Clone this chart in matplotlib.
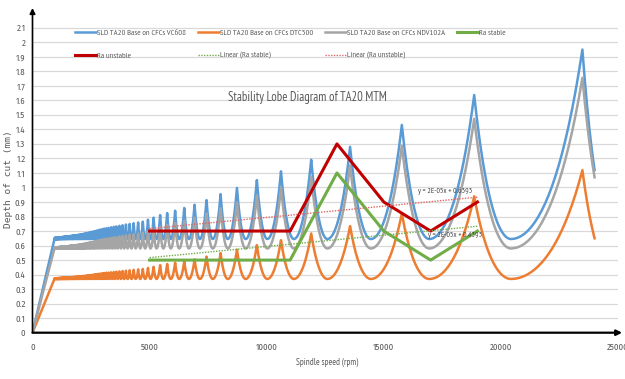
import numpy as np
import matplotlib
matplotlib.use("Agg")
import matplotlib.pyplot as plt
from matplotlib import font_manager as fm

# ---------------- data ----------------
# spindle speeds (rpm) of the lobe cusps, shared by the three SLD curves
cusp_rpm = [950, 960, 970, 980, 990, 1000, 1010, 1020, 1030, 1040, 1050, 1060, 1070, 1080, 1090, 1100,
            1110, 1130, 1140, 1150, 1160, 1180, 1190, 1200, 1220, 1230, 1250, 1260, 1280, 1290, 1310, 1330,
            1340, 1360, 1380, 1400, 1410, 1430, 1450, 1470, 1500, 1520, 1540, 1560, 1590, 1610, 1630, 1660,
            1690, 1710, 1740, 1770, 1800, 1830, 1870, 1900, 1940, 1970, 2010, 2050, 2090, 2130, 2180, 2220,
            2270, 2320, 2370, 2430, 2480, 2540, 2610, 2670, 2740, 2820, 2890, 2980, 3060, 3150, 3250, 3360,
            3470, 3580, 3710, 3850, 3990, 4150, 4320, 4510, 4710, 4930, 5170, 5450, 5750, 6090, 6480, 6920,
            7430, 8030, 8730, 9580, 10610, 11900, 13560, 15770, 18860, 23480]

# depth of cut (mm) at each cusp
vc608_cusp = [0.653, 0.653, 0.653, 0.653, 0.654, 0.654, 0.654, 0.654, 0.654, 0.654, 0.655, 0.655, 0.655,
              0.655, 0.655, 0.655, 0.656, 0.656, 0.656, 0.656, 0.656, 0.657, 0.657, 0.657, 0.657, 0.658,
              0.658, 0.658, 0.659, 0.659, 0.659, 0.660, 0.660, 0.660, 0.661, 0.661, 0.661, 0.662, 0.662,
              0.662, 0.663, 0.663, 0.664, 0.664, 0.665, 0.665, 0.666, 0.667, 0.667, 0.668, 0.668, 0.669,
              0.670, 0.671, 0.672, 0.672, 0.673, 0.674, 0.675, 0.677, 0.678, 0.679, 0.681, 0.682, 0.684,
              0.686, 0.688, 0.690, 0.692, 0.695, 0.697, 0.700, 0.703, 0.707, 0.710, 0.714, 0.717, 0.719,
              0.722, 0.726, 0.729, 0.732, 0.736, 0.740, 0.745, 0.749, 0.754, 0.759, 0.765, 0.778, 0.792,
              0.810, 0.824, 0.840, 0.859, 0.881, 0.913, 0.954, 0.997, 1.051, 1.111, 1.191, 1.280, 1.431,
              1.637, 1.950]
dtc500_cusp = [0.375, 0.375, 0.375, 0.375, 0.375, 0.375, 0.375, 0.375, 0.375, 0.375, 0.375, 0.376, 0.376,
               0.376, 0.376, 0.376, 0.376, 0.376, 0.376, 0.376, 0.377, 0.377, 0.377, 0.377, 0.377, 0.377,
               0.377, 0.378, 0.378, 0.378, 0.378, 0.378, 0.378, 0.379, 0.379, 0.379, 0.379, 0.379, 0.380,
               0.380, 0.380, 0.381, 0.381, 0.381, 0.381, 0.382, 0.382, 0.382, 0.383, 0.383, 0.383, 0.384,
               0.384, 0.385, 0.385, 0.386, 0.386, 0.387, 0.387, 0.388, 0.389, 0.390, 0.391, 0.391, 0.392,
               0.394, 0.395, 0.396, 0.397, 0.398, 0.400, 0.402, 0.403, 0.405, 0.407, 0.410, 0.411, 0.413,
               0.414, 0.416, 0.418, 0.420, 0.422, 0.425, 0.427, 0.430, 0.433, 0.436, 0.439, 0.446, 0.454,
               0.465, 0.473, 0.482, 0.493, 0.505, 0.524, 0.548, 0.572, 0.603, 0.637, 0.683, 0.734, 0.821,
               0.939, 1.119]
ndv102a_cusp = [0.587, 0.587, 0.587, 0.587, 0.588, 0.588, 0.588, 0.588, 0.588, 0.588, 0.589, 0.589, 0.589,
                0.589, 0.589, 0.589, 0.590, 0.590, 0.590, 0.590, 0.590, 0.591, 0.591, 0.591, 0.591, 0.592,
                0.592, 0.592, 0.593, 0.593, 0.593, 0.594, 0.594, 0.594, 0.594, 0.594, 0.594, 0.595, 0.595,
                0.595, 0.596, 0.596, 0.597, 0.597, 0.598, 0.598, 0.599, 0.600, 0.600, 0.601, 0.601, 0.602,
                0.603, 0.603, 0.604, 0.604, 0.605, 0.606, 0.607, 0.609, 0.610, 0.611, 0.612, 0.613, 0.615,
                0.617, 0.619, 0.621, 0.622, 0.625, 0.627, 0.630, 0.632, 0.636, 0.639, 0.642, 0.645, 0.647,
                0.649, 0.653, 0.656, 0.658, 0.662, 0.666, 0.670, 0.674, 0.678, 0.683, 0.688, 0.700, 0.712,
                0.729, 0.741, 0.756, 0.773, 0.792, 0.821, 0.858, 0.897, 0.945, 0.999, 1.071, 1.152, 1.287,
                1.473, 1.755]

sld_names = ['SLD TA20 Base on CFCs VC608', 'SLD TA20 Base on CFCs DTC500', 'SLD TA20 Base on CFCs NDV102A']
sld_floor = [0.645, 0.37, 0.58]      # lobe minimum depth (mm)
sld_end_rpm = [24000, 24000, 24000]  # last point of each curve
sld_end_depth = [1.12, 0.65, 1.07]

ra_rpm = [5000, 7000, 9000, 11000, 13000, 15000, 17000, 19000]
ra_unstable = [0.7, 0.7, 0.7, 0.7, 1.3, 0.9, 0.7, 0.9]
ra_stable = [0.5, 0.5, 0.5, 0.5, 1.1, 0.7, 0.5, 0.7]

x_ticks = [0, 5000, 10000, 15000, 20000, 25000]
y_ticks = [0, 0.1, 0.2, 0.3, 0.4, 0.5, 0.6, 0.7, 0.8, 0.9, 1, 1.1, 1.2, 1.3, 1.4, 1.5, 1.6, 1.7, 1.8, 1.9, 2, 2.1]

# ---------------- drawing ----------------
names = {f.name for f in fm.fontManager.ttflist}
NF = next((n for n in ['PT Sans Narrow', 'Archivo Narrow', 'Fira Sans Condensed', 'Liberation Sans Narrow']
           if n in names), 'DejaVu Sans')
TF = next((n for n in ['Fira Sans Condensed', 'Archivo Narrow', 'PT Sans Narrow'] if n in names), NF)


def sld_curve(cn, ch, floor, end_n, end_h, m=22):
    """Join the cusps with stability-lobe shaped arcs (each lobe dips to the floor value)."""
    cn = np.asarray(cn, float); ch = np.asarray(ch, float)
    xs = [0.0, cn[0]]; ys = [0.0, ch[0]]
    wmax = cn[-1] - cn[-2]
    t = np.linspace(0, 1, m)[1:]
    for i in range(len(cn) - 1):
        L, R = cn[i], cn[i + 1]
        tm = 0.46 - 0.12 * (R - L) / wmax
        rl = max(ch[i] / floor, 1 + 1e-9); rr = max(ch[i + 1] / floor, 1 + 1e-9)
        sl = rl - np.sqrt(rl ** 2 - 1); sr = rr + np.sqrt(rr ** 2 - 1)
        s1 = np.exp(np.log(sl) * (1 - t)); x1 = L + tm * (R - L) * t
        s2 = np.exp(np.log(sr) * t); x2 = L + (R - L) * (tm + (1 - tm) * t)
        xs += list(x1) + list(x2)
        ys += list(floor * (s1 + 1 / s1) / 2) + list(floor * (s2 + 1 / s2) / 2)
    r0 = ch[-1] / floor; re = end_h / floor
    s0 = r0 - np.sqrt(r0 ** 2 - 1); se = re - np.sqrt(re ** 2 - 1)
    s = np.exp(np.log(s0) + (np.log(se) - np.log(s0)) * t)
    xs += list(cn[-1] + (end_n - cn[-1]) * t)
    ys += list(floor * (s + 1 / s) / 2)
    return np.array(xs), np.array(ys)


W, H = 625, 379
fig = plt.figure(figsize=(6.25, 3.79), dpi=100)
ax = fig.add_axes([32.5 / W, 1 - 332.7 / H, 585.5 / W, 324.7 / H])
ax.set_xlim(0, 25000); ax.set_ylim(0, 2.236)
for sp in ax.spines.values():
    sp.set_visible(False)
ax.set_yticks(y_ticks)
ax.set_yticklabels([f"{v:g}" for v in y_ticks])
ax.set_xticks(x_ticks)
ax.tick_params(length=0, labelsize=6.3, labelcolor='#595959', pad=5)
ax.tick_params(axis='x', pad=7.5)
for lab in ax.get_xticklabels() + ax.get_yticklabels():
    lab.set_family(TF)
ax.yaxis.grid(True, color='#D9D9D9', lw=0.9)
ax.set_axisbelow(True)

cols = ['#5B9BD5', '#ED7D31', '#A5A5A5']
sld_lines = []
for cusp, col, fl, en, ed in zip([vc608_cusp, dtc500_cusp, ndv102a_cusp], cols, sld_floor, sld_end_rpm, sld_end_depth):
    x, y = sld_curve(cusp_rpm, cusp, fl, en, ed)
    ln, = ax.plot(x, y, color=col, lw=1.8)
    sld_lines.append(ln)

l_st, = ax.plot(ra_rpm, ra_stable, color='#70AD47', lw=2.2)
l_un, = ax.plot(ra_rpm, ra_unstable, color='#C00000', lw=2.2)
ps = np.polyfit(ra_rpm, ra_stable, 1); pu = np.polyfit(ra_rpm, ra_unstable, 1)
xr = np.array([ra_rpm[0], ra_rpm[-1]])
l_lst, = ax.plot(xr, np.polyval(ps, xr), color='#70AD47', lw=1.0, ls=(0, (1, 1)))
l_lun, = ax.plot(xr, np.polyval(pu, xr), color='#E06666', lw=1.0, ls=(0, (1, 1)))

ax.text(17614, 0.978, f"y = 2E-05x + {pu[1]:.4f}", fontsize=5.6, color='#404040', family=NF, ha='center', va='center')
ax.text(18038, 0.666, f"y = 2E-05x + {ps[1]:.4f}", fontsize=5.6, color='#404040', family=NF, ha='center', va='center')

ax.annotate('', xy=(1.007, 0), xytext=(0, 0), xycoords='axes fraction',
            arrowprops=dict(arrowstyle='-|>', color='black', lw=1.6, mutation_scale=8, shrinkA=0, shrinkB=0))
ax.annotate('', xy=(0, 1.0), xytext=(0, 0), xycoords='axes fraction',
            arrowprops=dict(arrowstyle='-|>', color='black', lw=1.2, mutation_scale=8, shrinkA=0, shrinkB=0))

handles = [sld_lines[0], l_un, sld_lines[1], l_lst, sld_lines[2], l_lun, l_st]
labels = [sld_names[0], 'Ra unstable', sld_names[1], 'Linear (Ra stable)', sld_names[2], 'Linear (Ra unstable)', 'Ra stable']
LFS = 6.0
fs_px = LFS * 100 / 72


def make_legend(colsp):
    lg = fig.legend(handles, labels, ncol=4, loc='upper left', bbox_to_anchor=(75 / W, 1 - 29.5 / H),
                    frameon=False, borderpad=0, borderaxespad=0, handlelength=2.5, handletextpad=0.15,
                    columnspacing=colsp, labelspacing=1.75, prop={'family': NF, 'size': LFS})
    for tx in lg.get_texts():
        tx.set_color('#595959')
    return lg


leg = make_legend(2.0)
fig.canvas.draw()
rend = fig.canvas.get_renderer()
tw = max(tx.get_window_extent(rend).width for tx in leg.get_texts()[:2])
leg.remove()
colsp = (123 - (2.5 + 0.15) * fs_px - tw) / fs_px
leg = make_legend(max(colsp, 0.5))

fig.text(307 / W, 1 - 97 / H, 'Stability Lobe Diagram of TA20 MTM', fontsize=9, color='#595959', family=NF,
         ha='center', va='center')
fig.text(327 / W, 1 - 362 / H, 'Spindle speed (rpm)', fontsize=6.5, color='#595959', family=NF,
         ha='center', va='center')
fig.text(9 / W, 1 - 179 / H, 'Depth of cut (mm)', fontsize=6.8, color='#595959', family='DejaVu Sans Mono',
         rotation=90, ha='center', va='center')

fig.savefig('out.png', dpi=100)
